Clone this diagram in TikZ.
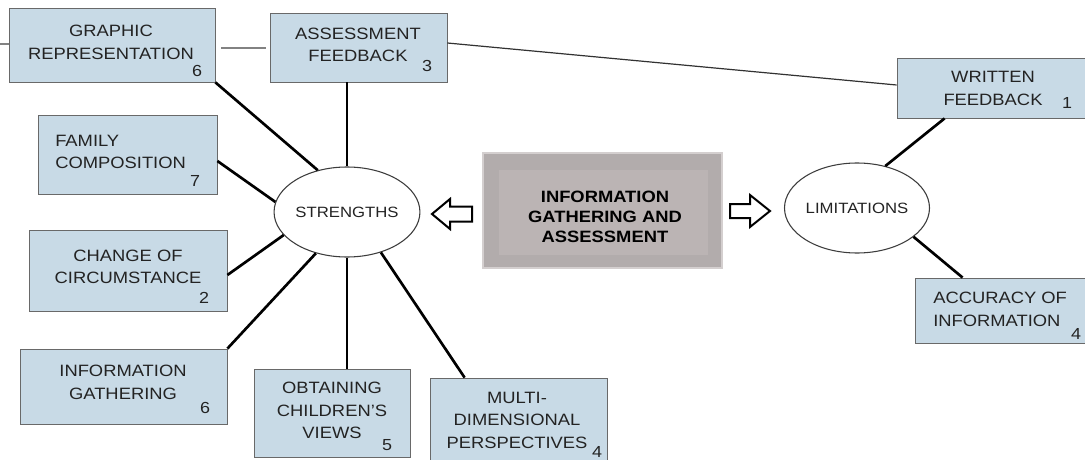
\documentclass[tikz,border=0pt]{standalone}
\usepackage{fontspec}
\setmainfont{Liberation Sans}[FakeStretch=1.12]
\usetikzlibrary{fit,calc,shapes.geometric}
\definecolor{boxblue}{RGB}{200,218,230}
\definecolor{boxline}{RGB}{105,105,105}
\definecolor{txtgray}{RGB}{35,35,35}
\definecolor{ellline}{RGB}{60,60,60}
\definecolor{cOuter}{RGB}{178,172,172}
\definecolor{cInner}{RGB}{187,180,180}
\definecolor{cBorder}{RGB}{212,207,207}
\definecolor{lgray}{RGB}{130,130,130}
\definecolor{thinline}{RGB}{50,50,50}
\begin{document}
\begin{tikzpicture}[x=0.75pt,y=-0.75pt,
  box/.style={draw=boxline, line width=0.6pt, fill=boxblue, inner sep=0pt},
  txt/.style={font=\fontsize{12.3}{16.9}\selectfont, text=txtgray, align=center, inner sep=0pt},
  num/.style={font=\fontsize{12}{14}\selectfont, text=txtgray, inner sep=0pt},
  conn/.style={line width=2pt, black, line cap=butt},
  ell/.style={ellipse, draw=ellline, line width=0.8pt, fill=white, inner sep=0pt,
              minimum width=105pt, minimum height=67.5pt,
              font=\fontsize{11.2}{13}\selectfont, text=txtgray},
  blockarrow/.style={draw=black, line width=1.5pt, line join=miter, fill=white}
]
\clip (0,0) rectangle (1085,460);
\fill[white] (0,0) rectangle (1085,460);

% boxes
\node[box, fit={(9,8) (215,82)}] (gr) {};
\node[box, fit={(270,13) (447,82)}] (af) {};
\node[box, fit={(897,58) (1095,118)}] (wf) {};
\node[box, fit={(915,278) (1095,343)}] (ac) {};
\node[box, fit={(38,115) (217,194)}] (fc) {};
\node[box, fit={(29,230) (227,311)}] (cc) {};
\node[box, fit={(20,349) (227,424)}] (ig) {};
\node[box, fit={(254,369) (410,457)}] (ob) {};
\node[box, fit={(430,378) (607,465)}] (md) {};

% box texts
\node[txt] (grt) at (111,42.5) {GRAPHIC\\REPRESENTATION};
\node[txt] (aft) at (358,45) {ASSESSMENT\\FEEDBACK};
\node[txt] (wft) at (993,88.5) {WRITTEN\\FEEDBACK};
\node[txt, align=left, anchor=west] (act) at (933,309.5) {ACCURACY OF\\INFORMATION};
\node[txt, align=left, anchor=west] (fct) at (55,152) {FAMILY\\COMPOSITION};
\node[txt] (cct) at (128,267) {CHANGE OF\\CIRCUMSTANCE};
\node[txt] (igt) at (123,382.5) {INFORMATION\\GATHERING};
\node[txt] (obt) at (332,410.5) {OBTAINING\\CHILDREN'S\\VIEWS};
\node[txt] (mdt) at (517,420) {MULTI-\\DIMENSIONAL\\PERSPECTIVES};

% numbers
\node[num] (grn) at (197,71) {6};
\node[num] (afn) at (427,66) {3};
\node[num] (wfn) at (1067,103) {1};
\node[num] (acn) at (1076,334) {4};
\node[num] (fcn) at (195,181) {7};
\node[num] (ccn) at (204,298) {2};
\node[num] (ign) at (205,408) {6};
\node[num] (obn) at (387,445) {5};
\node[num] (mdn) at (597,452) {4};

% centre box
\node[fit={(483,153) (722,268)}, inner sep=0pt, fill=cOuter, draw=cBorder, line width=1pt] (ctr) {};
\fill[cInner] (499,170) rectangle (708,255);
\node[font=\bfseries\fontsize{12.3}{15}\selectfont, align=center, inner sep=0pt, text=black]
  (ctrt) at (605,216.5) {INFORMATION\\GATHERING AND\\ASSESSMENT};

% ellipses
\node[ell] (st) at (347,212) {STRENGTHS};
\node[ell] (li) at (857,208) {LIMITATIONS};

% connectors to strengths
\draw[conn] (gr.south east) -- (st.125);
\draw[conn] (st.north |- af.south) -- (st.north);
\draw[conn] ($(fc.east)+(0,6.5)$) -- (st.172);
\draw[conn] ($(cc.east)+(0,4.5)$) -- (st.200);
\draw[conn] (ig.north east) -- (st.233);
\draw[conn] (st.south |- ob.north) -- (st.south);
\draw[conn] ($(md.north west)+(35,0)$) -- (st.310);

% connectors to limitations
\draw[conn] ($(wf.south west)+(48,0)$) -- (li.56);
\draw[conn] ($(ac.north west)+(48,0)$) -- (li.333);

% thin / grey lines
\draw[thinline, line width=0.9pt] ($(af.east)+(0,-4.5)$) -- ($(wf.west)+(0,-3)$);
\draw[lgray, line width=2.2pt] ($(gr.east)+(6,3)$) -- ($(af.west)+(-4,0.5)$);
\coordinate (lt) at (-5,44);
\draw[lgray, line width=0.9pt] (lt) -- (gr.west |- lt);

% block arrows
\draw[blockarrow] (432,214) -- (450,199) -- (450,206.5) -- (472,206.5) -- (472,221.5)
  -- (450,221.5) -- (450,229) -- cycle;
\draw[blockarrow] (770,211) -- (750,195) -- (750,204) -- (730,204) -- (730,218)
  -- (750,218) -- (750,227) -- cycle;
\end{tikzpicture}
\end{document}
